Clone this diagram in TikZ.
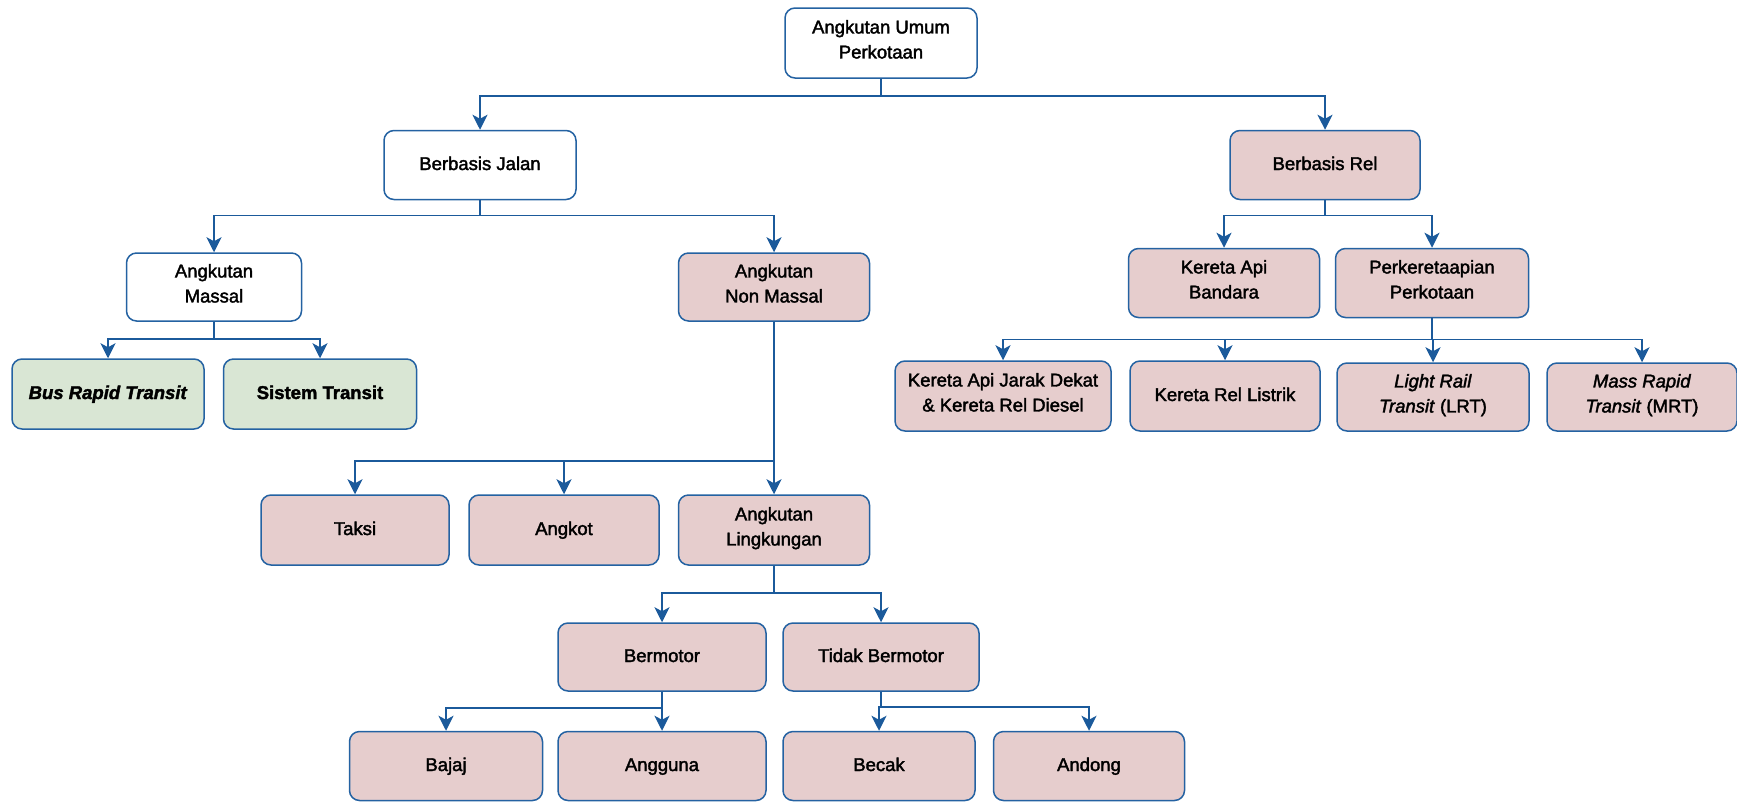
\documentclass[tikz,border=0pt]{standalone}
\usepackage{fontspec}
\setmainfont{Liberation Sans}[RawFeature={embolden=2}]
\usetikzlibrary{arrows.meta}
\usetikzlibrary{calc}
\definecolor{framecol}{HTML}{2462A2}
\definecolor{wirecol}{HTML}{1B5A9B}
\definecolor{rosecol}{HTML}{E6CDCD}
\definecolor{sagecol}{HTML}{D9E6D4}
\colorlet{border}{framecol}
\colorlet{wire}{wirecol}
\newcommand\boxw{190pt}
\newcommand\boxh{69pt}
\newcommand\labelfont{\fontsize{18.5}{25}\selectfont}

\begin{document}
\begin{tikzpicture}[x=1pt, y=-1pt, font=\labelfont]
    \tikzset{
        unit/.style={
            draw=border, line width=1.5pt,
            rounded corners=10pt,
            align=center, inner sep=2pt,
            minimum width=\boxw, minimum height=\boxh,
            execute at begin node=\strut,
            execute at end node=\strut,
        },
        plain unit/.style={unit, fill=white},
        rose unit/.style={unit, fill=rosecol},
        sage unit/.style={unit, fill=sagecol, font=\labelfont\bfseries},
        link/.style={
            wire, line width=1.5pt,
            -{Stealth[length=15pt, width=15pt, inset=4pt]},
        },
    }

    \useasboundingbox (0, 0) rectangle (1737, 803);

    % Top levels
    \node[plain unit, minimum width=192pt, minimum height=70pt] (umum) at (881, 43)
        {Angkutan Umum\\Perkotaan};
    \node[plain unit, minimum width=192pt] (jalan) at (480, 165) {Berbasis Jalan};
    \node[rose unit, minimum width=190pt] (rel) at (1325, 165) {Berbasis Rel};

    % Road branch
    \node[plain unit, minimum width=175pt, minimum height=68pt] (massal) at (214, 287)
        {Angkutan\\Massal};
    \node[rose unit, minimum width=191pt, minimum height=68pt] (nonmassal) at (774, 287)
        {Angkutan\\Non Massal};
    \node[sage unit, minimum width=192pt, minimum height=70pt] (brt) at (108, 394)
        {\textit{Bus Rapid Transit}};
    \node[sage unit, minimum width=193pt, minimum height=70pt] (sistem) at (320, 394)
        {Sistem Transit};

    \node[rose unit, minimum width=188pt, minimum height=70pt] (taksi) at (355, 530) {Taksi};
    \node[rose unit, minimum height=70pt] (angkot) at (564, 530) {Angkot};
    \node[rose unit, minimum width=191pt, minimum height=70pt] (lingkungan) at (774, 530)
        {Angkutan\\Lingkungan};

    \node[rose unit, minimum width=208pt, minimum height=68pt] (bermotor) at (662, 657) {Bermotor};
    \node[rose unit, minimum width=196pt, minimum height=68pt] (tidakbermotor) at (881, 657)
        {Tidak Bermotor};

    \node[rose unit, minimum width=193pt] (bajaj) at (446, 766) {Bajaj};
    \node[rose unit, minimum width=208pt] (angguna) at (662, 766) {Angguna};
    \node[rose unit, minimum width=192pt] (becak) at (879, 766) {Becak};
    \node[rose unit, minimum width=191pt] (andong) at (1089, 766) {Andong};

    % Rail branch
    \node[rose unit, minimum width=191pt] (bandara) at (1224, 283) {Kereta Api\\Bandara};
    \node[rose unit, minimum width=193pt] (perkotaan) at (1432, 283)
        {Perkeretaapian\\Perkotaan};

    \node[rose unit, minimum width=216pt, minimum height=70pt] (jarakdekat) at (1003, 396)
        {Kereta Api Jarak Dekat\\\& Kereta Rel Diesel};
    \node[rose unit, minimum height=70pt] (listrik) at (1225, 396) {Kereta Rel Listrik};
    \node[rose unit, minimum width=192pt, minimum height=68pt] (lrt) at (1433, 397)
        {\textit{Light Rail}\\\textit{Transit} (LRT)};
    \node[rose unit, minimum height=68pt] (mrt) at (1642, 397)
        {\textit{Mass Rapid}\\\textit{Transit} (MRT)};

    % Connectors
    \coordinate (umum-j) at ($(umum.south)+(0, 17)$);
    \coordinate (jalan-j) at ($(jalan.south)+(0, 15)$);
    \coordinate (rel-j) at ($(rel.south)+(0, 15)$);
    \coordinate (massal-j) at ($(massal.south)+(0, 17)$);
    \coordinate (nonmassal-j) at ($(nonmassal.south)+(0, 139)$);
    \coordinate (perkotaan-j) at ($(perkotaan.south)+(0, 21)$);
    \coordinate (lingkungan-j) at ($(lingkungan.south)+(0, 27)$);
    \coordinate (bermotor-j) at ($(bermotor.south)+(0, 16)$);
    \coordinate (tidakbermotor-j) at ($(tidakbermotor.south)+(0, 15)$);

    \foreach \kid in {jalan, rel}
        \draw[link] (umum.south) -- (umum-j) -| (\kid.north);
    \foreach \kid in {massal, nonmassal}
        \draw[link] (jalan.south) -- (jalan-j) -| (\kid.north);
    \foreach \kid in {bandara, perkotaan}
        \draw[link] (rel.south) -- (rel-j) -| (\kid.north);
    \foreach \kid in {brt, sistem}
        \draw[link] (massal.south) -- (massal-j) -| (\kid.north);
    \foreach \kid in {taksi, angkot, lingkungan}
        \draw[link] (nonmassal.south) -- (nonmassal-j) -| (\kid.north);
    \foreach \kid in {jarakdekat, listrik, lrt, mrt}
        \draw[link] (perkotaan.south) -- (perkotaan-j) -| (\kid.north);
    \foreach \kid in {bermotor, tidakbermotor}
        \draw[link] (lingkungan.south) -- (lingkungan-j) -| (\kid.north);
    \foreach \kid in {bajaj, angguna}
        \draw[link] (bermotor.south) -- (bermotor-j) -| (\kid.north);
    \foreach \kid in {becak, andong}
        \draw[link] (tidakbermotor.south) -- (tidakbermotor-j) -| (\kid.north);
\end{tikzpicture}
\end{document}
